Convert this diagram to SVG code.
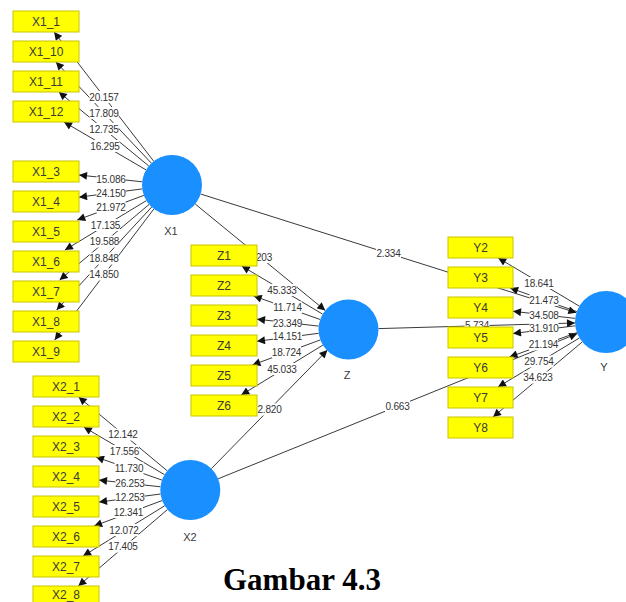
<svg xmlns="http://www.w3.org/2000/svg" width="626" height="602" viewBox="0 0 626 602">
  <style>
    .link { stroke: #3a3a3a; stroke-width: 1; fill: none; marker-end: url(#head); }
    .val-bg { fill: #ffffff; }
    .val { font-family: "Liberation Sans", Arial, sans-serif; font-size: 10px; fill: #333333; text-anchor: middle; letter-spacing: -0.2px; }
    .ind rect { fill: #ffff00; stroke: #c9c400; stroke-width: 1; }
    .ind text { font-family: "Liberation Sans", Arial, sans-serif; font-size: 12px; fill: #3a3a3a; text-anchor: middle; }
    .lv circle { fill: #1a8fff; }
    .lv text { font-family: "Liberation Sans", Arial, sans-serif; font-size: 11px; fill: #3a3a3a; text-anchor: middle; }
    .caption { font-family: "Liberation Serif", "Times New Roman", serif; font-size: 31px; font-weight: bold; fill: #000000; }
  </style>
  <defs>
    <marker id="head" viewBox="0 0 10 10" refX="10" refY="5" markerWidth="9" markerHeight="8" markerUnits="userSpaceOnUse" orient="auto">
      <path d="M0,0 L10,5 L0,10 z" fill="#111111"/>
    </marker>
  </defs>

  <rect width="626" height="602" fill="#ffffff"/>

  <!-- connectors: outer loadings and inner paths -->
  <g id="connectors">
    <!-- X1 loadings -->
    <line class="link" x1="153.7" y1="161.2" x2="54.1" y2="32"/>
    <line class="link" x1="151.4" y1="163.2" x2="55.9" y2="62"/>
    <line class="link" x1="148.8" y1="166" x2="58.8" y2="92"/>
    <line class="link" x1="146.1" y1="169.9" x2="64" y2="122"/>
    <line class="link" x1="142.2" y1="181.8" x2="79" y2="175"/>
    <line class="link" x1="142.3" y1="188.9" x2="79" y2="197.2"/>
    <line class="link" x1="143.9" y1="195.4" x2="77.2" y2="220"/>
    <line class="link" x1="146.4" y1="200.6" x2="64.9" y2="250"/>
    <line class="link" x1="149.1" y1="204.4" x2="59.6" y2="280"/>
    <line class="link" x1="151.7" y1="207" x2="56.6" y2="310"/>
    <line class="link" x1="153.9" y1="208.9" x2="54.7" y2="340"/>
    <!-- Z loadings -->
    <line class="link" x1="322.7" y1="314.2" x2="241.7" y2="266"/>
    <line class="link" x1="320.2" y1="319.5" x2="253.7" y2="296"/>
    <line class="link" x1="318.7" y1="326.1" x2="257" y2="319.2"/>
    <line class="link" x1="318.7" y1="333.3" x2="257" y2="341.3"/>
    <line class="link" x1="320.4" y1="339.9" x2="252.4" y2="365"/>
    <line class="link" x1="322.9" y1="345.1" x2="241.2" y2="395"/>
    <!-- Y loadings -->
    <line class="link" x1="579.4" y1="306.2" x2="498.2" y2="258"/>
    <line class="link" x1="576.8" y1="311.6" x2="510.1" y2="288"/>
    <line class="link" x1="575.2" y1="318.4" x2="513" y2="311.3"/>
    <line class="link" x1="575.2" y1="325.8" x2="513" y2="333.5"/>
    <line class="link" x1="576.9" y1="332.6" x2="509.5" y2="357"/>
    <line class="link" x1="579.4" y1="338" x2="498" y2="387"/>
    <line class="link" x1="582.3" y1="341.9" x2="493" y2="417"/>
    <!-- X2 loadings -->
    <line class="link" x1="167.2" y1="470.8" x2="78.6" y2="397"/>
    <line class="link" x1="164.5" y1="474.7" x2="83.8" y2="427"/>
    <line class="link" x1="162" y1="480.1" x2="96" y2="457"/>
    <line class="link" x1="160.5" y1="486.8" x2="99" y2="480.1"/>
    <line class="link" x1="160.6" y1="494" x2="99" y2="502.1"/>
    <line class="link" x1="162.2" y1="500.5" x2="94.1" y2="526"/>
    <line class="link" x1="164.8" y1="505.7" x2="83.1" y2="556"/>
    <line class="link" x1="167.5" y1="509.5" x2="78.3" y2="586"/>
    <!-- inner model -->
    <line class="link" x1="195.2" y1="204" x2="325.3" y2="310.5"/>
    <line class="link" x1="200.6" y1="194" x2="576.4" y2="312.7"/>
    <line class="link" x1="378.5" y1="328.6" x2="575" y2="323"/>
    <line class="link" x1="211.4" y1="468.6" x2="327.4" y2="350.1"/>
    <line class="link" x1="218.1" y1="478.8" x2="577.3" y2="333.6"/>

    <!-- path values -->
    <g id="values">
      <rect class="val-bg" x="89.5" y="91" width="29" height="12"/><text class="val" x="104" y="100.5">20.157</text>
      <rect class="val-bg" x="89.5" y="107" width="29" height="12"/><text class="val" x="104" y="116.5">17.809</text>
      <rect class="val-bg" x="89.5" y="123" width="29" height="12"/><text class="val" x="104" y="132.5">12.735</text>
      <rect class="val-bg" x="90.5" y="140" width="29" height="12"/><text class="val" x="105" y="149.5">16.295</text>
      <rect class="val-bg" x="96.5" y="173" width="29" height="12"/><text class="val" x="111" y="182.5">15.086</text>
      <rect class="val-bg" x="96.5" y="187" width="29" height="12"/><text class="val" x="111" y="196.5">24.150</text>
      <rect class="val-bg" x="96.5" y="201" width="29" height="12"/><text class="val" x="111" y="210.5">21.972</text>
      <rect class="val-bg" x="91" y="219" width="29" height="12"/><text class="val" x="105.5" y="228.5">17.135</text>
      <rect class="val-bg" x="90" y="235.5" width="29" height="12"/><text class="val" x="104.5" y="245">19.588</text>
      <rect class="val-bg" x="89.5" y="252.5" width="29" height="12"/><text class="val" x="104" y="262">18.848</text>
      <rect class="val-bg" x="89.5" y="268.5" width="29" height="12"/><text class="val" x="104" y="278">14.850</text>

      <rect class="val-bg" x="267.5" y="284" width="29" height="12"/><text class="val" x="282" y="293.5">45.333</text>
      <rect class="val-bg" x="273" y="301.5" width="29" height="12"/><text class="val" x="287.5" y="311">11.714</text>
      <rect class="val-bg" x="273" y="317" width="29" height="12"/><text class="val" x="287.5" y="326.5">23.349</text>
      <rect class="val-bg" x="273" y="330.5" width="29" height="12"/><text class="val" x="287.5" y="340">14.151</text>
      <rect class="val-bg" x="272" y="346" width="29" height="12"/><text class="val" x="286.5" y="355.5">18.724</text>
      <rect class="val-bg" x="267.5" y="363" width="29" height="12"/><text class="val" x="282" y="372.5">45.033</text>

      <rect class="val-bg" x="524.5" y="277" width="29" height="12"/><text class="val" x="539" y="286.5">18.641</text>
      <rect class="val-bg" x="529.5" y="294" width="29" height="12"/><text class="val" x="544" y="303.5">21.473</text>
      <rect class="val-bg" x="529.5" y="309" width="29" height="12"/><text class="val" x="544" y="318.5">34.508</text>
      <rect class="val-bg" x="529.5" y="322.5" width="29" height="12"/><text class="val" x="544" y="332">31.910</text>
      <rect class="val-bg" x="529" y="338.5" width="29" height="12"/><text class="val" x="543.5" y="348">21.194</text>
      <rect class="val-bg" x="524.5" y="355.5" width="29" height="12"/><text class="val" x="539" y="365">29.754</text>
      <rect class="val-bg" x="523.5" y="371.5" width="29" height="12"/><text class="val" x="538" y="381">34.623</text>

      <rect class="val-bg" x="108.5" y="428.5" width="29" height="12"/><text class="val" x="123" y="438">12.142</text>
      <rect class="val-bg" x="110" y="445" width="29" height="12"/><text class="val" x="124.5" y="454.5">17.556</text>
      <rect class="val-bg" x="114.5" y="462" width="29" height="12"/><text class="val" x="129" y="471.5">11.730</text>
      <rect class="val-bg" x="115.5" y="477.5" width="29" height="12"/><text class="val" x="130" y="487">26.253</text>
      <rect class="val-bg" x="115.5" y="491" width="29" height="12"/><text class="val" x="130" y="500.5">12.253</text>
      <rect class="val-bg" x="114" y="506" width="29" height="12"/><text class="val" x="128.5" y="515.5">12.341</text>
      <rect class="val-bg" x="109.5" y="524" width="29" height="12"/><text class="val" x="124" y="533.5">12.072</text>
      <rect class="val-bg" x="108.5" y="540.5" width="29" height="12"/><text class="val" x="123" y="550">17.405</text>

      <rect class="val-bg" x="255.5" y="251" width="17" height="12"/><text class="val" x="264" y="260.5">203</text>
      <rect class="val-bg" x="376" y="247" width="25" height="12"/><text class="val" x="388.5" y="256.5">2.334</text>
      <rect class="val-bg" x="464.5" y="319.5" width="25" height="12"/><text class="val" x="477" y="329">5.734</text>
      <rect class="val-bg" x="257" y="403.5" width="25" height="12"/><text class="val" x="269.5" y="413">2.820</text>
      <rect class="val-bg" x="385" y="400" width="25" height="12"/><text class="val" x="397.5" y="409.5">0.663</text>
    </g>
  </g>

  <!-- X1 indicators -->
  <g id="X1_1" class="ind"><rect x="13" y="11" width="66" height="21"/><text x="46" y="26">X1_1</text></g>
  <g id="X1_10" class="ind"><rect x="13" y="41" width="66" height="21"/><text x="46" y="56">X1_10</text></g>
  <g id="X1_11" class="ind"><rect x="13" y="71" width="66" height="21"/><text x="46" y="86">X1_11</text></g>
  <g id="X1_12" class="ind"><rect x="13" y="101" width="66" height="21"/><text x="46" y="116">X1_12</text></g>
  <g id="X1_3" class="ind"><rect x="13" y="161" width="66" height="21"/><text x="46" y="176">X1_3</text></g>
  <g id="X1_4" class="ind"><rect x="13" y="191" width="66" height="21"/><text x="46" y="206">X1_4</text></g>
  <g id="X1_5" class="ind"><rect x="13" y="221" width="66" height="21"/><text x="46" y="236">X1_5</text></g>
  <g id="X1_6" class="ind"><rect x="13" y="251" width="66" height="21"/><text x="46" y="266">X1_6</text></g>
  <g id="X1_7" class="ind"><rect x="13" y="281" width="66" height="21"/><text x="46" y="296">X1_7</text></g>
  <g id="X1_8" class="ind"><rect x="13" y="311" width="66" height="21"/><text x="46" y="326">X1_8</text></g>
  <g id="X1_9" class="ind"><rect x="13" y="341" width="66" height="21"/><text x="46" y="356">X1_9</text></g>

  <!-- Z indicators -->
  <g id="Z1" class="ind"><rect x="191" y="245" width="66" height="21"/><text x="224" y="260">Z1</text></g>
  <g id="Z2" class="ind"><rect x="191" y="275" width="66" height="21"/><text x="224" y="290">Z2</text></g>
  <g id="Z3" class="ind"><rect x="191" y="305" width="66" height="21"/><text x="224" y="320">Z3</text></g>
  <g id="Z4" class="ind"><rect x="191" y="335" width="66" height="21"/><text x="224" y="350">Z4</text></g>
  <g id="Z5" class="ind"><rect x="191" y="365" width="66" height="21"/><text x="224" y="380">Z5</text></g>
  <g id="Z6" class="ind"><rect x="191" y="395" width="66" height="21"/><text x="224" y="410">Z6</text></g>

  <!-- Y indicators -->
  <g id="Y2" class="ind"><rect x="448" y="237" width="65" height="21"/><text x="480.5" y="252">Y2</text></g>
  <g id="Y3" class="ind"><rect x="448" y="267" width="65" height="21"/><text x="480.5" y="282">Y3</text></g>
  <g id="Y4" class="ind"><rect x="448" y="297" width="65" height="21"/><text x="480.5" y="312">Y4</text></g>
  <g id="Y5" class="ind"><rect x="448" y="327" width="65" height="21"/><text x="480.5" y="342">Y5</text></g>
  <g id="Y6" class="ind"><rect x="448" y="357" width="65" height="21"/><text x="480.5" y="372">Y6</text></g>
  <g id="Y7" class="ind"><rect x="448" y="387" width="65" height="21"/><text x="480.5" y="402">Y7</text></g>
  <g id="Y8" class="ind"><rect x="448" y="417" width="65" height="21"/><text x="480.5" y="432">Y8</text></g>

  <!-- X2 indicators -->
  <g id="X2_1" class="ind"><rect x="33" y="376" width="66" height="21"/><text x="66" y="391">X2_1</text></g>
  <g id="X2_2" class="ind"><rect x="33" y="406" width="66" height="21"/><text x="66" y="421">X2_2</text></g>
  <g id="X2_3" class="ind"><rect x="33" y="436" width="66" height="21"/><text x="66" y="451">X2_3</text></g>
  <g id="X2_4" class="ind"><rect x="33" y="466" width="66" height="21"/><text x="66" y="481">X2_4</text></g>
  <g id="X2_5" class="ind"><rect x="33" y="496" width="66" height="21"/><text x="66" y="511">X2_5</text></g>
  <g id="X2_6" class="ind"><rect x="33" y="526" width="66" height="21"/><text x="66" y="541">X2_6</text></g>
  <g id="X2_7" class="ind"><rect x="33" y="556" width="66" height="21"/><text x="66" y="571">X2_7</text></g>
  <g id="X2_8" class="ind"><rect x="33" y="586" width="66" height="21"/><text x="66" y="598.5">X2_8</text></g>

  <!-- latent variables -->
  <g id="X1" class="lv"><circle cx="172" cy="185" r="30"/><text x="171" y="235">X1</text></g>
  <g id="Z" class="lv"><circle cx="348.5" cy="329.5" r="30"/><text x="347" y="379">Z</text></g>
  <g id="Y" class="lv"><circle cx="606" cy="322" r="31"/><text x="604" y="371">Y</text></g>
  <g id="X2" class="lv"><circle cx="190.3" cy="490" r="30"/><text x="190" y="541">X2</text></g>

  <text class="caption" x="223" y="590">Gambar 4.3</text>
</svg>
